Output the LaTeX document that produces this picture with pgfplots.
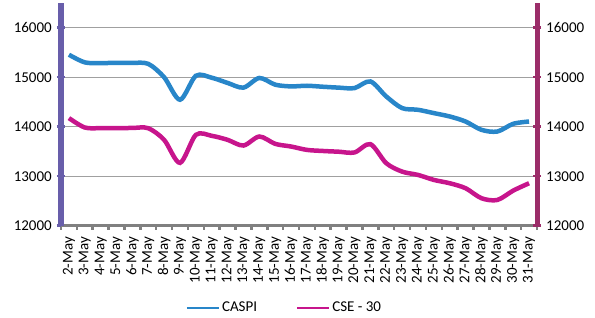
\documentclass[border=0pt]{standalone}
\usepackage{fontspec}
\setmainfont{Carlito}
\usepackage{pgfplots}
\pgfplotsset{compat=1.18}
\definecolor{caspi}{RGB}{40,134,201}
\definecolor{cse}{RGB}{199,21,140}
\definecolor{leftax}{RGB}{104,94,170}
\definecolor{rightax}{RGB}{155,45,105}
\definecolor{xax}{RGB}{128,128,128}
\definecolor{gridc}{RGB}{160,160,160}
\begin{document}
\fontsize{15bp}{18bp}\selectfont
\begin{tikzpicture}
\begin{axis}[
  name=main,
  scale only axis, width=476bp, height=222.7bp,
  xmin=-0.5, xmax=29.5, ymin=12000, ymax=16500,
  scaled y ticks=false,
  axis x line*=bottom, axis y line*=left,
  x axis line style={-, draw=xax, line width=3.5bp},
  y axis line style={-, draw=leftax, line width=5bp},
  xtick={0,...,29},
  xticklabels={2-May,3-May,4-May,5-May,6-May,7-May,8-May,9-May,10-May,11-May,12-May,13-May,14-May,15-May,16-May,17-May,18-May,19-May,20-May,21-May,22-May,23-May,24-May,25-May,26-May,27-May,28-May,29-May,30-May,31-May},
  x tick label style={rotate=90, anchor=east, font=\fontsize{15bp}{18bp}\selectfont, xshift=2bp},
  major x tick style={draw=none},
  minor xtick={-0.5,0.5,...,29.5},
  minor x tick style={draw=xax, line width=2.5bp},
  minor tick length=4bp,
  xtick align=outside,
  ytick={12000,13000,...,16000},
  ytick align=center,
  major tick length=8bp,
  y tick style={draw=leftax, line width=2.5bp},
  ymajorgrids,
  grid style={draw=gridc, line width=0.8bp},
  y tick label style={font=\fontsize{15bp}{18bp}\selectfont},
  /pgf/number format/assume math mode=true,
  /pgf/number format/set thousands separator={},
  legend style={at={(0.4695,-0.368)}, anchor=center, legend columns=2, draw=none, fill=none,
    font=\fontsize{15bp}{18bp}\selectfont,
    /tikz/every even column/.append style={column sep=37bp}},
  legend image code/.code={\draw[#1, line width=2.2bp] (0bp,0bp) -- (32bp,0bp);},
  clip=false,
]
\addplot[caspi, line width=4.5bp, smooth, tension=0.5] coordinates {
(0,15455) (1,15300) (2,15287) (3,15290) (4,15290) (5,15270) (6,15000) (7,14545) (8,15030) (9,14990)
(10,14885) (11,14790) (12,14985) (13,14850) (14,14815) (15,14828) (16,14808) (17,14790) (18,14781) (19,14915)
(20,14611) (21,14376) (22,14342) (23,14275) (24,14207) (25,14105) (26,13937) (27,13903) (28,14059) (29,14105)};
\addlegendentry{CASPI}
\addplot[cse, line width=4.5bp, smooth, tension=0.5] coordinates {
(0,14174) (1,13984) (2,13971) (3,13970) (4,13975) (5,13970) (6,13735) (7,13270) (8,13836) (9,13816)
(10,13735) (11,13620) (12,13802) (13,13654) (14,13600) (15,13532) (16,13510) (17,13495) (18,13480) (19,13648)
(20,13263) (21,13093) (22,13026) (23,12925) (24,12858) (25,12757) (26,12555) (27,12520) (28,12709) (29,12858)};
\addlegendentry{CSE - 30}
\end{axis}
\begin{axis}[
  scale only axis, width=476bp, height=222.7bp,
  at={(main.south west)}, anchor=south west,
  xmin=-0.5, xmax=29.5, ymin=12000, ymax=16500,
  scaled y ticks=false,
  axis x line=none, axis y line*=right,
  y axis line style={-, draw=rightax, line width=5bp},
  ytick={12000,13000,...,16000},
  ytick align=center,
  major tick length=8bp,
  y tick style={draw=rightax, line width=2.5bp},
  y tick label style={font=\fontsize{15bp}{18bp}\selectfont},
  /pgf/number format/assume math mode=true,
  /pgf/number format/set thousands separator={},
]
\addplot[draw=none] coordinates {(0,12000)};
\end{axis}
\path[use as bounding box] ([xshift=-61bp,yshift=-92.3bp]main.south west) rectangle ([xshift=58bp,yshift=3bp]main.north east);
\end{tikzpicture}
\end{document}
